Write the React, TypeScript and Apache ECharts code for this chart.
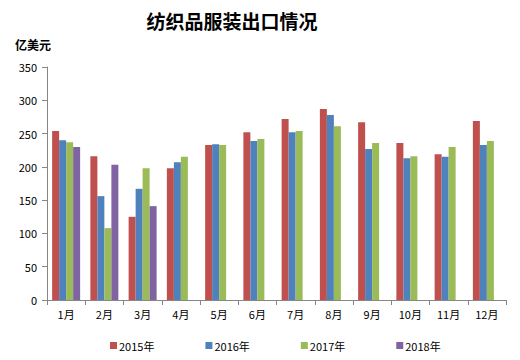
import React, { useEffect, useRef } from "react";
import * as echarts from "echarts";

const categories = ["1月", "2月", "3月", "4月", "5月", "6月", "7月", "8月", "9月", "10月", "11月", "12月"];
const s2015 = [254, 216, 125, 198, 233, 252, 272, 287, 267, 236, 219, 269];
const s2016 = [240, 156, 167, 207, 234, 239, 252, 278, 227, 213, 215, 233];
const s2017 = [237, 108, 198, 215, 233, 242, 254, 261, 236, 216, 230, 239];
const s2018 = [230, 203, 141, null, null, null, null, null, null, null, null, null];
const seriesNames = ["2015年", "2016年", "2017年", "2018年"];
const colors = ["#C0504D", "#4F81BD", "#9BBB59", "#8064A2"];
const yTicks = [0, 50, 100, 150, 200, 250, 300, 350];

export default function App() {
  const ref = useRef<HTMLDivElement>(null);
  useEffect(() => {
    if (!ref.current) return;
    const chart = echarts.init(ref.current, undefined, { renderer: "svg" });
    const font = "'Noto Sans CJK SC', 'Noto Sans', sans-serif";
    const data = [s2015, s2016, s2017, s2018];
    chart.setOption({
      animation: false,
      backgroundColor: "#ffffff",
      textStyle: { fontFamily: font },
      title: [
        {
          text: "纺织品服装出口情况",
          left: 227,
          textAlign: "center",
          top: 6,
          textStyle: { fontSize: 19, fontWeight: "bold", color: "#000", fontFamily: font },
        },
        {
          text: "亿美元",
          left: 10,
          top: 33,
          textStyle: { fontSize: 12, fontWeight: "bold", color: "#000", fontFamily: font },
        },
      ],
      legend: {
        bottom: 4,
        left: 105,
        itemWidth: 7,
        itemHeight: 7,
        itemGap: 51,
        icon: "rect",
        textStyle: { fontSize: 11, color: "#000", padding: [0, 0, 0, -3] },
        data: seriesNames,
      },
      grid: { left: 47, right: 14, top: 67, bottom: 60 },
      xAxis: {
        type: "category",
        data: categories,
        boundaryGap: true,
        axisLine: { lineStyle: { color: "#868686", width: 1 } },
        axisTick: { show: true, length: 5, lineStyle: { color: "#868686" } },
        axisLabel: { fontSize: 11, color: "#000", margin: 8 },
      },
      yAxis: {
        type: "value",
        min: yTicks[0],
        max: yTicks[yTicks.length - 1],
        interval: 50,
        axisLine: { show: true, lineStyle: { color: "#868686", width: 1 } },
        axisTick: { show: true, length: 5, lineStyle: { color: "#868686" } },
        splitLine: { show: false },
        axisLabel: { fontSize: 11, color: "#000", margin: 10 },
      },
      series: seriesNames.map((name, i) => ({
        name,
        type: "bar",
        data: data[i],
        barWidth: 7,
        barGap: "0%",
        itemStyle: { color: colors[i] },
      })),
    });
    return () => chart.dispose();
  }, []);
  return <div ref={ref} style={{ width: 520, height: 360, position: "absolute", left: 0, top: 0 }} />;
}
